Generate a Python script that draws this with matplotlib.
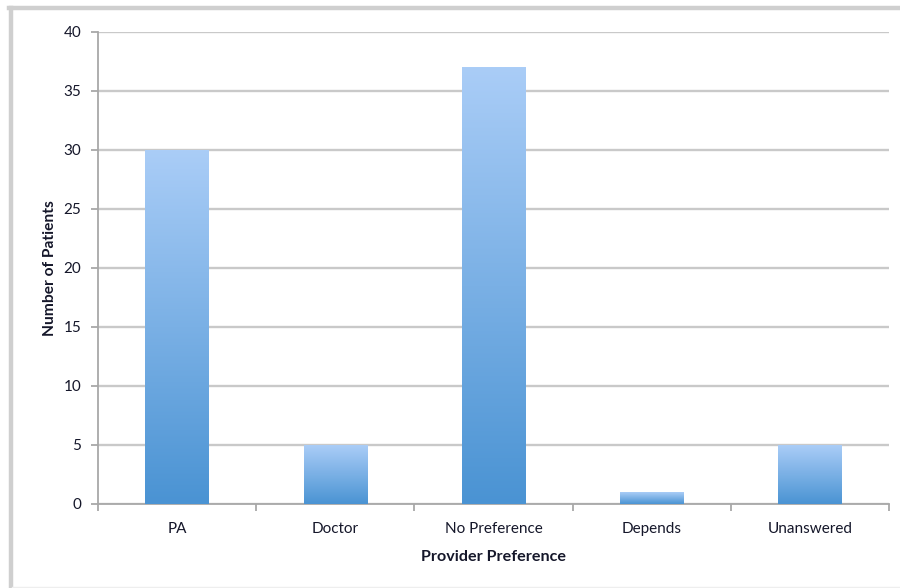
import numpy as np
import matplotlib
matplotlib.use("Agg")
import matplotlib.pyplot as plt
from matplotlib.colors import LinearSegmentedColormap
from matplotlib.lines import Line2D

categories = ["PA", "Doctor", "No Preference", "Depends", "Unanswered"]
patients = [30, 5, 37, 1, 5]
y_ticks = [0, 5, 10, 15, 20, 25, 30, 35, 40]

plt.rcParams['font.family'] = ['Lato', 'DejaVu Sans']
text_color = "#15172a"
grid_color = "#c9c9c9"

fig = plt.figure(figsize=(9, 5.88), dpi=100)
fig.patch.set_facecolor("white")
ax = fig.add_axes([0.1089, 0.1429, 0.8789, 0.8027])

x = np.arange(len(categories))
bars = ax.bar(x, patients, width=0.4, color="none", edgecolor="none", zorder=3)

# vertical gradient fill for each bar, light on top and darker at the base
grad_cmap = LinearSegmentedColormap.from_list("bar_grad", ["#4a93d3", "#aacdf7"])
gradient = np.linspace(0, 1, 256).reshape(-1, 1)
for patch in bars.patches:
    x0, y0 = patch.get_x(), patch.get_y()
    w, h = patch.get_width(), patch.get_height()
    im = ax.imshow(gradient, cmap=grad_cmap, origin="lower", aspect="auto",
                   extent=(x0, x0 + w, y0, y0 + h), zorder=3, interpolation="bilinear")
    im.set_clip_path(patch)

ax.set_xlim(-0.5, len(categories) - 0.5)
ax.set_ylim(0, 40)
ax.set_yticks(y_ticks)
ax.set_yticklabels([str(t) for t in y_ticks])
ax.set_xticks(x)
ax.set_xticklabels(categories)
ax.set_xticks(np.arange(-0.5, len(categories)), minor=True)

ax.yaxis.grid(True, color=grid_color, linewidth=1.7, zorder=0)
ax.set_axisbelow(True)

for side in ("top", "right"):
    ax.spines[side].set_visible(False)
for side in ("left", "bottom"):
    ax.spines[side].set_color("#a8a8a8")
    ax.spines[side].set_linewidth(1.3)

ax.tick_params(axis="y", direction="out", length=5, width=1.3, color="#a8a8a8",
               labelsize=11, labelcolor=text_color, pad=7)
ax.tick_params(axis="x", which="major", length=0, labelsize=11,
               labelcolor=text_color, pad=13)
ax.tick_params(axis="x", which="minor", direction="out", length=5, width=1.3,
               color="#a8a8a8")

ax.set_xlabel("Provider Preference", fontsize=11.6, fontweight="bold",
              color=text_color, labelpad=10)
ax.set_ylabel("Number of Patients", fontsize=11.2, fontweight="bold",
              color=text_color, labelpad=5)

# outer chart frame
frame_color = "#cfcfcf"
fig.add_artist(Line2D([10.5 / 900, 10.5 / 900], [0, 1 - 7.5 / 588],
                      transform=fig.transFigure, color=frame_color, linewidth=3.2))
fig.add_artist(Line2D([9 / 900, 1], [1 - 7.5 / 588, 1 - 7.5 / 588],
                      transform=fig.transFigure, color=frame_color, linewidth=3.2))
fig.add_artist(Line2D([12 / 900, 1], [1.2 / 588, 1.2 / 588],
                      transform=fig.transFigure, color="#eeeeee", linewidth=1.0))

fig.savefig("out.png", dpi=100, facecolor="white")
